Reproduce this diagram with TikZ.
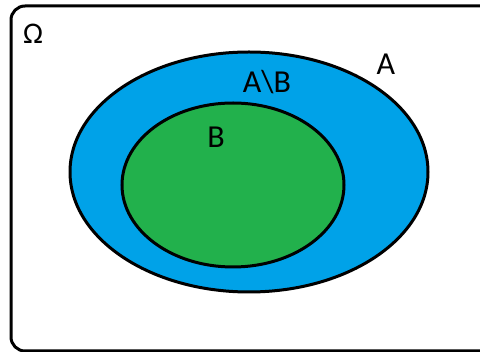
\documentclass[tikz,border=0pt]{standalone}
\usepackage{fontspec}
\setmainfont{Carlito}
\usetikzlibrary{shapes.geometric}
\definecolor{setblue}{HTML}{00A2E8}
\definecolor{setgreen}{HTML}{22B14C}

\begin{document}
\begin{tikzpicture}[x=1pt, y=-1pt, set/.style = {draw, ellipse, line width=3pt, inner sep=0pt}, lbl/.style = {font=\fontsize{32}{32}\selectfont, inner sep=0pt}]
\useasboundingbox (0,0) rectangle (480,352);
\clip (0,0) rectangle (480,352);
% universe
\draw[line width=3pt, rounded corners=14pt] (11,6) rectangle (500,351);
% the two sets
\node[set, fill=setblue, minimum width=358pt, minimum height=240pt] (A) at (249,172) {};
\node[set, fill=setgreen, minimum width=222pt, minimum height=164pt] (B) at (233,185) {};
% labels
\node[lbl, font=\fontsize{30}{30}\selectfont] (omega) at (33,34) {Ω};
\node[lbl] (labelA) at (386,64) {A};
\node[lbl] (labelAB) at (267,82) {A\textbackslash B};
\node[lbl] (labelB) at (216,137) {B};
\end{tikzpicture}
\end{document}
